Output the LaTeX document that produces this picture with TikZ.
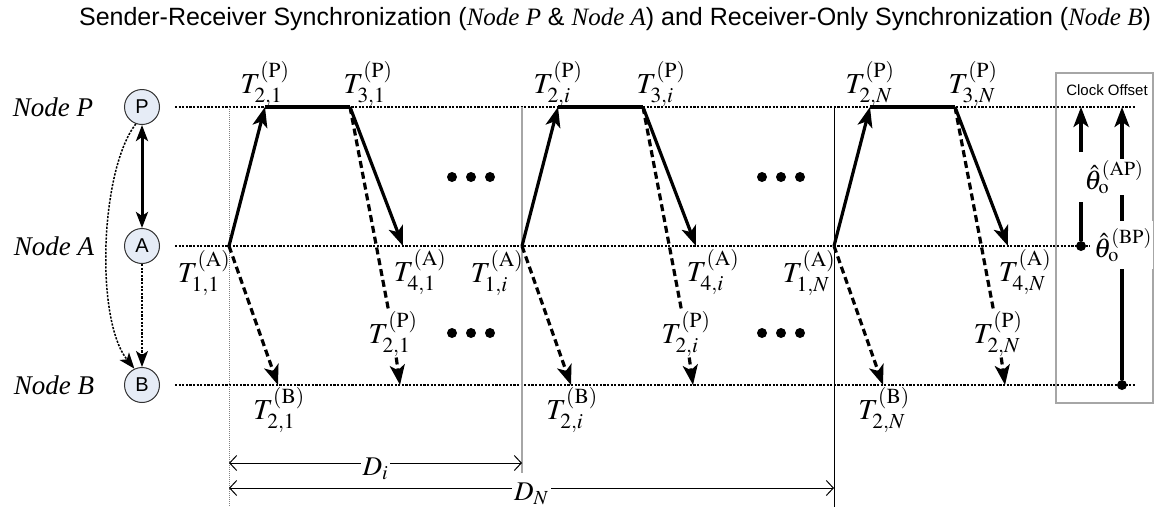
\documentclass[tikz,border=0pt]{standalone}
\usepackage{mathptmx}
\usepackage{fontspec}
\setmainfont{Liberation Serif}
\setsansfont{Liberation Sans}
\usetikzlibrary{arrows.meta}

\definecolor{nodefill}{RGB}{230,236,246}
\newcommand{\nameit}[1]{{\rmfamily\itshape #1}}

\tikzset{
  timeline/.style={line width=1.5pt, dash pattern=on 2.2pt off 1.4pt},
  bigtip/.style={-{Stealth[length=20pt,width=15pt,inset=5pt]}},
  msg/.style={line width=3.2pt, bigtip},
  bcast/.style={msg, dash pattern=on 7pt off 4pt},
  stamp/.style={font=\fontsize{29}{33}\selectfont, inner sep=1pt},
  nodecirc/.style={circle, draw=black!80, fill=nodefill, line width=1pt,
    minimum size=35pt, inner sep=0pt, font=\sffamily\fontsize{20}{22}\selectfont},
  nodename/.style={font=\rmfamily\itshape\fontsize{27}{30}\selectfont},
  smalltip/.style={-{Stealth[length=16pt,width=12pt,inset=4pt]}},
  dimline/.style={line width=1pt,
    {Straight Barb[length=7pt,width=15pt]}-{Straight Barb[length=7pt,width=15pt]}},
  dimlab/.style={fill=white, font=\fontsize{27}{30}\selectfont, inner sep=2pt, yshift=-6pt},
  offdot/.style={circle, fill, inner sep=0pt, minimum size=10pt},
  offlab/.style={font=\fontsize{27}{31}\selectfont, fill=white},
}

\begin{document}
\begin{tikzpicture}[x=1pt, y=-1pt]
  \useasboundingbox (0,0) rectangle (1161,512);

  % title
  \node[font=\sffamily\fontsize{25}{28}\selectfont] (title) at (615,19)
    {Sender-Receiver Synchronization (\nameit{Node P} \& \nameit{Node A}) and Receiver-Only Synchronization (\nameit{Node B})};

  % nodes on the left
  \node[nodename] (lP) at (53,107) {Node P};
  \node[nodename] (lA) at (54,246) {Node A};
  \node[nodename] (lB) at (54,385) {Node B};
  \node[nodecirc] (nP) at (142,107) {P};
  \node[nodecirc] (nA) at (142,246) {A};
  \node[nodecirc] (nB) at (142,385) {B};
  \draw[line width=3pt, {Stealth[length=16pt,width=12pt,inset=4pt]}-{Stealth[length=16pt,width=12pt,inset=4pt]}] (nP) -- (nA);
  \draw[timeline, smalltip] (nA) -- (nB);
  \draw[timeline, smalltip] (nP.250) .. controls (100,170) and (95,320) .. (nB.115);

  % time lines
  \draw[timeline] (175,107) -- (1135,107);
  \draw[timeline] (175,246) -- (1090,246);
  \draw[timeline] (175,385) -- (1135,385);

  % period borders
  \draw[gray, line width=0.9pt, dash pattern=on 1pt off 1pt] (229,107) -- (229,507);
  \draw[gray!70, line width=1.8pt] (522,107) -- (522,473);
  \draw[line width=1pt] (834,107) -- (834,507);

  % exchanges
  \foreach \s/\x in {1/229, i/522, N/834} {
    \coordinate (a1-\s) at (\x,246);
    \coordinate (p2-\s) at (\x+36,107);
    \coordinate (p3-\s) at (\x+121,107);
    \coordinate (a4-\s) at (\x+174,246);
    \coordinate (b2-\s) at (\x+49,385);
    \coordinate (bp-\s) at (\x+171,385);
    \node[stamp] (t1-\s) at (\x-25,273) {$T_{1,\s}^{(\mathrm{A})}$};
    \node[stamp] (t2-\s) at (\x+36,84) {$T_{2,\s}^{(\mathrm{P})}$};
    \node[stamp] (t3-\s) at (\x+139,84) {$T_{3,\s}^{(\mathrm{P})}$};
    \node[stamp] (t4-\s) at (\x+191,272) {$T_{4,\s}^{(\mathrm{A})}$};
    \node[stamp] (tb-\s) at (\x+50,410) {$T_{2,\s}^{(\mathrm{B})}$};
    \node[stamp, fill=white] (tp-\s) at (\x+164,334) {$T_{2,\s}^{(\mathrm{P})}$};
    \draw[msg] (a1-\s) -- (p2-\s);
    \draw[line width=3.2pt] (p2-\s) -- (p3-\s);
    \draw[msg] (p3-\s) -- (a4-\s);
    \draw[bcast] (a1-\s) -- (b2-\s);
    \draw[bcast, -] (p3-\s) -- (tp-\s);
    \draw[bcast] (tp-\s) -- (bp-\s);
  }

  % ellipses
  \foreach \cx in {471,781}
    \foreach \cy in {177,333}
      \foreach \dx in {-19,0,19}
        \fill (\cx+\dx,\cy) circle (5);

  % durations
  \draw[dimline] (229,463) -- node[dimlab] (dI) {$D_i$} (522,463);
  \draw[dimline] (229,488) -- node[dimlab] (dN) {$D_N$} (834,488);

  % clock offset
  \draw[gray!70, line width=1.5pt] (1056,73) rectangle (1153,403);
  \node[font=\sffamily\fontsize{15}{17}\selectfont] (clk) at (1107,90) {Clock Offset};
  \node[offdot] (dAP) at (1081,246) {};
  \node[offdot] (dBP) at (1122,385) {};
  \coordinate (tAP) at (1081,107);
  \coordinate (tBP) at (1122,107);
  \coordinate (apLo) at (1081,202);
  \coordinate (apHi) at (1081,152);
  \draw[line width=3.2pt] (dAP) -- (apLo);
  \draw[msg] (apHi) -- (tAP);
  \draw[msg] (dBP) -- (tBP);
  \node[offlab, inner sep=1pt] (thAP) at (1114,177) {$\hat{\theta}_{\mathrm{o}}^{(\mathrm{AP})}$};
  \node[offlab, inner xsep=1pt, inner ysep=7pt] (thBP) at (1123,245) {$\hat{\theta}_{\mathrm{o}}^{(\mathrm{BP})}$};
\end{tikzpicture}
\end{document}
